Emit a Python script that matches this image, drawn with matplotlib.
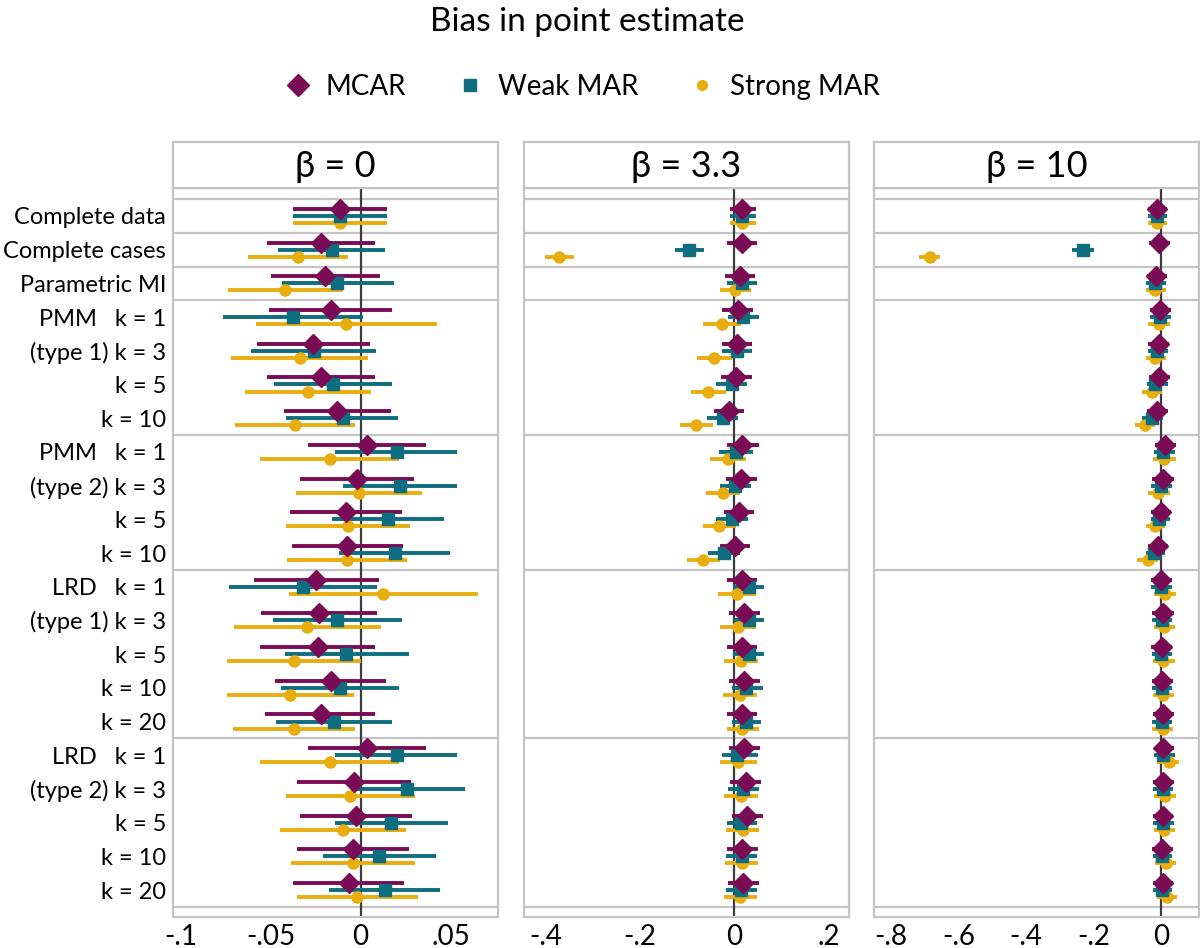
import matplotlib
matplotlib.use('Agg')
import matplotlib.pyplot as plt
from matplotlib.lines import Line2D

plt.rcParams['font.family'] = ['Lato', 'DejaVu Sans']

# row labels, top to bottom
row_labels = ['Complete data', 'Complete cases', 'Parametric MI',
              'PMM   k = 1', '(type 1) k = 3', 'k = 5', 'k = 10',
              'PMM   k = 1', '(type 2) k = 3', 'k = 5', 'k = 10',
              'LRD   k = 1', '(type 1) k = 3', 'k = 5', 'k = 10', 'k = 20',
              'LRD   k = 1', '(type 2) k = 3', 'k = 5', 'k = 10', 'k = 20']
group_breaks = [-0.5, 0.5, 1.5, 2.5, 6.5, 10.5, 15.5, 20.5]

series_names = ['MCAR', 'Weak MAR', 'Strong MAR']
panel_titles = ['β = 0', 'β = 3.3', 'β = 10']

# beta = 0
b0_mcar = [-0.0115, -0.0217, -0.0196, -0.0165, -0.0263, -0.0217, -0.0128, 0.0037, -0.0019, -0.008, -0.0074,
           -0.025, -0.0231, -0.0237, -0.0165, -0.0222, 0.0037, -0.0035, -0.0026, -0.0044, -0.0065]
b0_mcar_lo = [-0.0374, -0.0519, -0.0498, -0.0506, -0.0572, -0.0519, -0.0424, -0.0294, -0.0335, -0.0389, -0.0381,
              -0.0594, -0.0554, -0.0556, -0.0474, -0.0528, -0.0294, -0.0352, -0.0335, -0.0352, -0.0374]
b0_mcar_hi = [0.0148, 0.0078, 0.0106, 0.0172, 0.0052, 0.0081, 0.0167, 0.0363, 0.0296, 0.0228, 0.0233,
              0.0100, 0.0093, 0.0078, 0.0144, 0.0081, 0.0363, 0.0278, 0.0285, 0.0269, 0.0241]
b0_weak = [-0.0115, -0.0157, -0.0128, -0.0374, -0.0259, -0.0152, -0.0100, 0.0200, 0.0220, 0.0150, 0.0191,
           -0.0320, -0.0128, -0.0078, -0.0115, -0.0148, 0.0200, 0.0257, 0.0170, 0.0104, 0.0135]
b0_weak_lo = [-0.0374, -0.0456, -0.0437, -0.0763, -0.0607, -0.0480, -0.0411, -0.0139, -0.0096, -0.0161, -0.0119,
              -0.0730, -0.0485, -0.0420, -0.0441, -0.0467, -0.0139, -0.0031, -0.0143, -0.0206, -0.0174]
b0_weak_hi = [0.0148, 0.0137, 0.0185, 0.0015, 0.0085, 0.0176, 0.0207, 0.0537, 0.0537, 0.0461, 0.0494,
              0.0089, 0.0231, 0.0267, 0.0215, 0.0172, 0.0537, 0.0578, 0.0483, 0.0417, 0.0441]
b0_strong = [-0.0115, -0.0346, -0.0417, -0.0078, -0.0337, -0.0294, -0.0363, -0.0172, -0.0011, -0.0067, -0.0076,
             0.0124, -0.0296, -0.0370, -0.0393, -0.0370, -0.0172, -0.0057, -0.0098, -0.0044, -0.0017]
b0_strong_lo = [-0.0374, -0.0622, -0.0735, -0.0581, -0.0717, -0.0643, -0.0696, -0.0557, -0.0361, -0.0411, -0.0407,
                -0.0398, -0.0702, -0.0743, -0.0744, -0.0707, -0.0557, -0.0413, -0.0446, -0.0387, -0.0352]
b0_strong_hi = [0.0148, -0.0069, -0.0096, 0.0426, 0.0043, 0.0057, -0.0028, 0.0211, 0.0339, 0.0276, 0.0256,
                0.0650, 0.0111, 0.0004, -0.0037, -0.0033, 0.0211, 0.0300, 0.0254, 0.0300, 0.0320]

# beta = 3.3
b33_mcar = [0.017, 0.0156, 0.0128, 0.007, 0.005, 0.004, -0.011, 0.017, 0.014, 0.010, 0.0014,
            0.016, 0.021, 0.017, 0.021, 0.017, 0.021, 0.024, 0.027, 0.017, 0.018]
b33_mcar_lo = [-0.010, -0.016, -0.019, -0.026, -0.027, -0.028, -0.043, -0.016, -0.018, -0.022, -0.030,
               -0.016, -0.011, -0.015, -0.011, -0.016, -0.011, -0.0085, -0.005, -0.016, -0.014]
b33_mcar_hi = [0.045, 0.048, 0.044, 0.040, 0.038, 0.037, 0.021, 0.052, 0.0475, 0.0425, 0.034,
               0.048, 0.054, 0.049, 0.054, 0.049, 0.055, 0.057, 0.060, 0.050, 0.052]
b33_weak = [0.017, -0.0965, 0.0156, 0.019, 0.005, -0.0057, -0.025, 0.0035, 0.0014, -0.0057, -0.022,
            0.0305, 0.031, 0.030, 0.0255, 0.0255, 0.005, 0.018, 0.015, 0.0156, 0.013]
b33_weak_lo = [-0.010, -0.126, -0.0156, -0.013, -0.027, -0.038, -0.057, -0.033, -0.031, -0.039, -0.055,
               -0.002, -0.001, -0.003, -0.005, -0.006, -0.0255, -0.014, -0.016, -0.017, -0.018]
b33_weak_hi = [0.045, -0.064, 0.047, 0.052, 0.038, 0.027, 0.008, 0.040, 0.035, 0.028, 0.011,
               0.063, 0.063, 0.062, 0.060, 0.057, 0.050, 0.052, 0.048, 0.049, 0.048]
b33_strong = [0.017, -0.371, 0.0014, -0.026, -0.0426, -0.055, -0.081, -0.014, -0.024, -0.033, -0.0667,
              0.0057, 0.007, 0.014, 0.011, 0.016, 0.007, 0.013, 0.018, 0.0156, 0.011]
b33_strong_lo = [-0.010, -0.402, -0.031, -0.066, -0.080, -0.091, -0.116, -0.052, -0.060, -0.066, -0.100,
                 -0.034, -0.030, -0.021, -0.025, -0.016, -0.031, -0.023, -0.017, -0.020, -0.023]
b33_strong_hi = [0.045, -0.340, 0.036, 0.0135, -0.004, -0.017, -0.045, 0.0255, 0.011, 0.004, -0.031,
                 0.046, 0.045, 0.051, 0.048, 0.053, 0.047, 0.050, 0.053, 0.051, 0.047]

# beta = 10
b10_mcar = [-0.014, -0.006, -0.015, -0.004, -0.008, -0.007, -0.014, 0.010, 0.005, -0.002, -0.011,
            -0.001, 0.005, 0.001, 0.002, 0.005, 0.006, 0.006, 0.004, 0.002, 0.004]
b10_mcar_lo = [-0.040, -0.037, -0.044, -0.035, -0.039, -0.037, -0.042, -0.020, -0.027, -0.032, -0.041,
               -0.032, -0.027, -0.030, -0.029, -0.026, -0.019, -0.025, -0.026, -0.028, -0.025]
b10_mcar_hi = [0.015, 0.025, 0.015, 0.027, 0.023, 0.024, 0.018, 0.042, 0.036, 0.029, 0.020,
               0.030, 0.036, 0.032, 0.033, 0.036, 0.037, 0.036, 0.035, 0.033, 0.035]
b10_weak = [-0.014, -0.232, -0.018, -0.004, -0.013, -0.020, -0.027, 0.005, -0.002, -0.006, -0.022,
            -0.001, 0.002, 0.000, 0.001, 0.002, 0.004, 0.004, 0.004, 0.003, 0.002]
b10_weak_lo = [-0.040, -0.263, -0.047, -0.035, -0.041, -0.044, -0.056, -0.022, -0.030, -0.032, -0.047,
               -0.032, -0.027, -0.028, -0.028, -0.027, -0.022, -0.025, -0.024, -0.025, -0.025]
b10_weak_hi = [0.015, -0.200, 0.013, 0.027, 0.019, 0.018, 0.005, 0.040, 0.030, 0.026, 0.011,
               0.032, 0.032, 0.030, 0.031, 0.032, 0.039, 0.035, 0.036, 0.032, 0.032]
b10_strong = [-0.014, -0.684, -0.019, -0.007, -0.018, -0.029, -0.048, 0.008, -0.010, -0.019, -0.040,
              0.010, 0.008, 0.006, 0.006, 0.004, 0.021, 0.010, 0.008, 0.013, 0.017]
b10_strong_lo = [-0.040, -0.716, -0.047, -0.039, -0.047, -0.057, -0.077, -0.024, -0.040, -0.046, -0.071,
                 -0.022, -0.022, -0.026, -0.026, -0.027, -0.012, -0.021, -0.023, -0.019, -0.014]
b10_strong_hi = [0.015, -0.653, 0.013, 0.025, 0.013, 0.003, -0.019, 0.042, 0.024, 0.012, -0.009,
                 0.042, 0.040, 0.039, 0.037, 0.033, 0.052, 0.042, 0.039, 0.042, 0.046]

x_ticks = [[-0.1, -0.05, 0, 0.05], [-0.4, -0.2, 0, 0.2], [-0.8, -0.6, -0.4, -0.2, 0]]
x_ticklabels = [['-.1', '-.05', '0', '.05'], ['-.4', '-.2', '0', '.2'], ['-.8', '-.6', '-.4', '-.2', '0']]
x_lims = [(-0.1041, 0.0763), (-0.446, 0.243), (-0.849, 0.111)]

panels = [
    [(b0_mcar, b0_mcar_lo, b0_mcar_hi), (b0_weak, b0_weak_lo, b0_weak_hi), (b0_strong, b0_strong_lo, b0_strong_hi)],
    [(b33_mcar, b33_mcar_lo, b33_mcar_hi), (b33_weak, b33_weak_lo, b33_weak_hi), (b33_strong, b33_strong_lo, b33_strong_hi)],
    [(b10_mcar, b10_mcar_lo, b10_mcar_hi), (b10_weak, b10_weak_lo, b10_weak_hi), (b10_strong, b10_strong_lo, b10_strong_hi)],
]

colors = ['#7a0b55', '#0f6d80', '#e8ae0f']
markers = ['D', 's', 'o']
msizes = [10.5, 9, 8]
offsets = [-0.21, 0.0, 0.21]
grey = '#c4c4c4'

fig = plt.figure(figsize=(12, 9.48), dpi=100)

W, H = 1200.0, 948.0
lefts = [173, 524, 874]
pw = 325
top, bottom, head_top = 188, 917, 141.5

for p in range(3):
    ax = fig.add_axes([lefts[p] / W, 1 - bottom / H, pw / W, (bottom - top) / H])
    hx = fig.add_axes([lefts[p] / W, 1 - top / H, pw / W, (top - head_top) / H])

    # header box
    hx.set_xticks([])
    hx.set_yticks([])
    for s in hx.spines.values():
        s.set_color(grey)
        s.set_linewidth(1.6)
    hx.text(0.5, 0.47, panel_titles[p], ha='center', va='center', fontsize=26,
            transform=hx.transAxes)

    ax.axvline(0, color='#3c3c3c', lw=1.6, zorder=1)
    for yb in group_breaks:
        ax.axhline(yb, color=grey, lw=1.6, zorder=0)

    rows = list(range(len(row_labels)))
    # draw strong first so MCAR sits on top
    for s in [2, 1, 0]:
        est, lo, hi = panels[p][s]
        ys = [r + offsets[s] for r in rows]
        ax.hlines(ys, lo, hi, color=colors[s], lw=2.8, zorder=2)
        ax.plot(est, ys, linestyle='none', marker=markers[s], ms=msizes[s],
                color=colors[s], zorder=3)

    ax.set_ylim(20.8, -0.83)
    ax.set_xlim(*x_lims[p])
    ax.set_xticks(x_ticks[p])
    ax.set_xticklabels(x_ticklabels[p], fontsize=20)
    ax.tick_params(axis='x', length=0, pad=5)
    if p == 0:
        ax.set_yticks(rows)
        ax.set_yticklabels(row_labels, fontsize=17)
        ax.tick_params(axis='y', length=0, pad=5)
    else:
        ax.set_yticks([])
    for s in ax.spines.values():
        s.set_color(grey)
        s.set_linewidth(1.6)

fig.text(0.489, 0.977, 'Bias in point estimate', ha='center', va='center', fontsize=24)

handles = [Line2D([], [], linestyle='none', marker=markers[i], color=colors[i],
                  ms=[11, 8, 7][i]) for i in range(3)]
fig.legend(handles, series_names, loc='center', bbox_to_anchor=(0.485, 0.908), ncol=3,
           frameon=False, fontsize=20, handlelength=1.0, handletextpad=0.5, columnspacing=1.8)

fig.savefig('out.png', dpi=100)
